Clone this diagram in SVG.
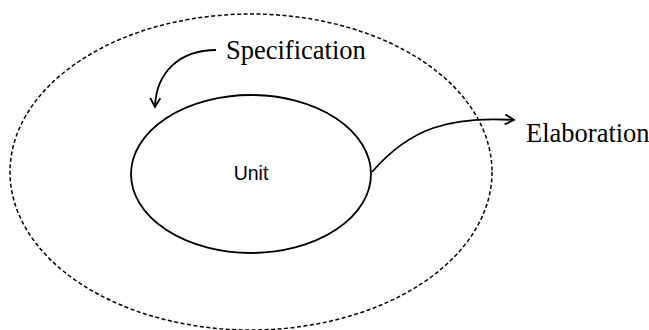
<svg xmlns="http://www.w3.org/2000/svg" width="649" height="330" viewBox="0 0 649 330">
  <style>
    .outer { fill: none; stroke: #000; stroke-width: 1.5; stroke-dasharray: 4 2.5; }
    .unit { fill: none; stroke: #000; stroke-width: 1.8; }
    .link { fill: none; stroke: #000; stroke-width: 1.8; }
    .serif { font-family: "Liberation Serif", "Times New Roman", serif; font-size: 26.5px; fill: #000; }
    .sans { font-family: "Liberation Sans", Arial, sans-serif; font-size: 19.5px; fill: #000; }
  </style>
  <defs>
    <marker id="arrow" viewBox="0 0 12 12" refX="10" refY="6" markerWidth="12" markerHeight="12" markerUnits="userSpaceOnUse" orient="auto">
      <path d="M1,1 L10,6 L1,11" fill="none" stroke="#000" stroke-width="1.8"/>
    </marker>
  </defs>

  <g id="context">
    <ellipse class="outer" cx="251" cy="172" rx="241" ry="158"/>
  </g>

  <g id="unit">
    <ellipse class="unit" cx="251" cy="174" rx="120" ry="79"/>
    <text class="sans" x="251" y="180" text-anchor="middle">Unit</text>
  </g>

  <g id="specification">
    <text class="serif" x="226" y="59">Specification</text>
  </g>

  <g id="elaboration">
    <text class="serif" x="526" y="142">Elaboration</text>
  </g>

  <g id="connectors">
    <path class="link" d="M216,50 C180,50 156,72 155,107" marker-end="url(#arrow)"/>
    <path class="link" d="M372,172 C410,128 450,116 514,120" marker-end="url(#arrow)"/>
  </g>
</svg>
